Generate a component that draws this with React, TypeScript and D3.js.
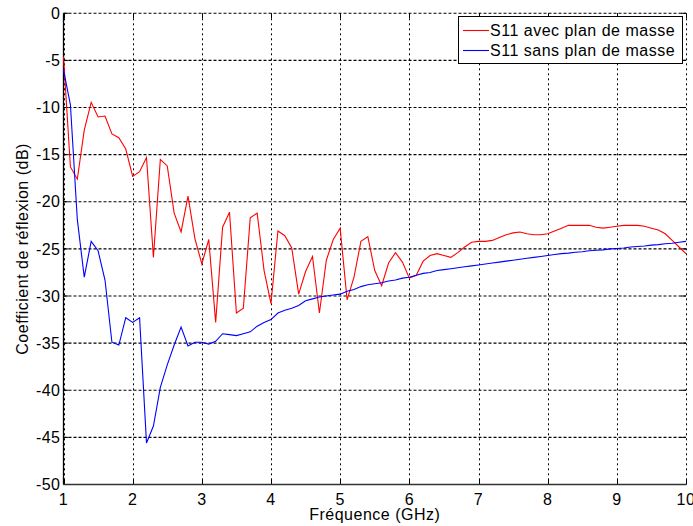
import React from "react";
import * as d3 from "d3";

const freqs: number[] = d3.range(0, 91).map((i) => 1 + i / 10);

const s11Avec: number[] = [
  -4.6, -16.3, -17.6, -12.4, -9.45, -11.0, -10.9, -12.8, -13.2, -14.4,
  -17.3, -16.8, -15.3, -25.9, -15.5, -16.2, -21.2, -23.2, -19.4, -23.9,
  -26.6, -24.0, -32.8, -22.7, -21.1, -31.8, -31.3, -21.7, -21.2, -27.3,
  -30.8, -23.1, -23.6, -24.9, -29.8, -27.4, -25.8, -31.8, -26.2, -24.0,
  -22.8, -30.4, -28.0, -24.2, -23.7, -27.3, -28.9, -26.5, -25.4, -26.4,
  -28.1, -27.8, -26.3, -25.7, -25.5, -25.7, -25.9, -25.4, -24.8, -24.3,
  -24.2, -24.2, -24.1, -23.8, -23.5, -23.3, -23.2, -23.4, -23.5, -23.5,
  -23.4, -23.1, -22.8, -22.5, -22.5, -22.5, -22.5, -22.7, -22.8, -22.7,
  -22.6, -22.5, -22.5, -22.5, -22.6, -22.8, -23.0, -23.4, -24.1, -24.8,
  -25.5,
];

const s11Sans: number[] = [
  -6.0, -9.7, -21.9, -28.0, -24.2, -25.2, -28.3, -34.9, -35.2, -32.3,
  -32.8, -32.3, -45.6, -43.8, -39.7, -37.3, -35.2, -33.3, -35.3, -34.9,
  -34.9, -35.1, -34.8, -34.0, -34.1, -34.2, -34.0, -33.8, -33.2, -32.8,
  -32.5, -31.8, -31.5, -31.3, -31.0, -30.5, -30.3, -30.1, -30.0, -29.9,
  -29.8, -29.5, -29.3, -29.0, -28.8, -28.7, -28.6, -28.4, -28.3, -28.1,
  -28.0, -27.8, -27.6, -27.5, -27.3, -27.2, -27.1, -27.0, -26.9, -26.8,
  -26.7, -26.6, -26.5, -26.4, -26.3, -26.2, -26.1, -26.0, -25.9, -25.8,
  -25.7, -25.6, -25.5, -25.45, -25.35, -25.3, -25.2, -25.15, -25.1, -25.0,
  -24.95, -24.9, -24.8, -24.75, -24.7, -24.6, -24.55, -24.45, -24.4, -24.3,
  -24.2,
];

const xTicks: number[] = [1, 2, 3, 4, 5, 6, 7, 8, 9, 10];
const yTicks: number[] = [0, -5, -10, -15, -20, -25, -30, -35, -40, -45, -50];
const seriesNames: string[] = ["S11 avec plan de masse", "S11 sans plan de masse"];
const seriesColors: string[] = ["#ff0000", "#0000ff"];

const W = 693;
const H = 526;
const L = 63.5;
const R = 686;
const T = 13.3;
const B = 484.5;
const FONT = "'Liberation Sans', Arial, sans-serif";
const FS = 16;
const LS = 0.5;

export default function App() {
  const x = d3.scaleLinear().domain([1, 10]).range([L, R]);
  const y = d3.scaleLinear().domain([-50, 0]).range([B, T]);
  const line = d3
    .line<number>()
    .x((_, i) => x(freqs[i]))
    .y((d) => y(d));
  const series = [s11Avec, s11Sans];

  return (
    <svg
      width={W}
      height={H}
      style={{ position: "absolute", left: 0, top: 0, background: "#fff" }}
      fontFamily={FONT}
    >
      <rect x={0} y={0} width={W} height={H} fill="#fff" />
      {/* grid */}
      {xTicks.map((t) => (
        <line
          key={"gx" + t}
          x1={Math.round(x(t)) + 0.5}
          x2={Math.round(x(t)) + 0.5}
          y1={T}
          y2={B}
          stroke="#000"
          strokeWidth={1}
          strokeDasharray="2,3"
        />
      ))}
      {yTicks.map((t) => (
        <line
          key={"gy" + t}
          x1={L}
          x2={R}
          y1={y(t)}
          y2={y(t)}
          stroke="#000"
          strokeWidth={1.1}
          strokeDasharray="3,2"
        />
      ))}
      {/* ticks */}
      {xTicks.map((t) => (
        <g key={"tx" + t}>
          <line x1={Math.round(x(t)) + 0.5} x2={Math.round(x(t)) + 0.5} y1={B} y2={B - 5} stroke="#000" />
          <line x1={Math.round(x(t)) + 0.5} x2={Math.round(x(t)) + 0.5} y1={T} y2={T + 5} stroke="#000" />
          <text x={x(t)} y={505} textAnchor="middle" fontSize={FS} letterSpacing={LS} fill="#000">
            {t}
          </text>
        </g>
      ))}
      {yTicks.map((t) => (
        <g key={"ty" + t}>
          <line x1={L} x2={L + 5} y1={y(t)} y2={y(t)} stroke="#000" />
          <line x1={R} x2={R - 5} y1={y(t)} y2={y(t)} stroke="#000" />
          <text x={60.5} y={y(t) + 5.7} textAnchor="end" fontSize={FS} letterSpacing={LS} fill="#000">
            {t}
          </text>
        </g>
      ))}
      {/* axes */}
      <line x1={L} x2={L} y1={T} y2={B} stroke="#000" strokeWidth={1.3} />
      <line x1={L} x2={R} y1={B} y2={B} stroke="#333" strokeWidth={1.3} />
      {/* series */}
      {series.map((s, i) => (
        <path key={"s" + i} d={line(s) || ""} fill="none" stroke={seriesColors[i]} strokeWidth={1.1} />
      ))}
      {/* legend */}
      <rect x={458.5} y={16.5} width={224} height={47} fill="#fff" stroke="#000" strokeWidth={1} />
      {seriesNames.map((n, i) => (
        <g key={"lg" + i}>
          <line x1={463} x2={489} y1={30.5 + i * 20} y2={30.5 + i * 20} stroke={seriesColors[i]} strokeWidth={1.1} />
          <text x={490} y={36.3 + i * 20} fontSize={FS} letterSpacing={LS} fill="#000">
            {n}
          </text>
        </g>
      ))}
      {/* axis labels */}
      <text x={(L + R) / 2} y={519.5} textAnchor="middle" fontSize={FS} letterSpacing={LS} fill="#000">
        Fréquence (GHz)
      </text>
      <text
        transform={`translate(28,${(T + B) / 2}) rotate(-90)`}
        textAnchor="middle"
        fontSize={FS}
        letterSpacing={LS}
        fill="#000"
      >
        Coefficient de réflexion (dB)
      </text>
    </svg>
  );
}
